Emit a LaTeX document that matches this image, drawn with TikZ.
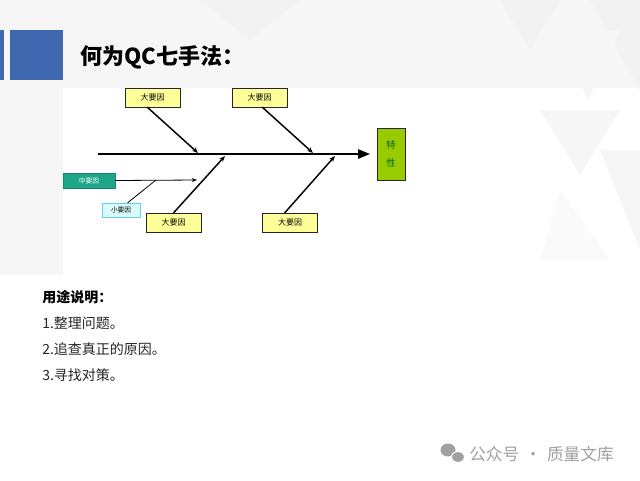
\documentclass[tikz,border=0pt]{standalone}
\usepackage{fontspec}
\setmainfont{Noto Sans CJK SC}
\usetikzlibrary{arrows.meta,positioning}

\definecolor{slideblue}{HTML}{4068B0}
\definecolor{causeyellow}{HTML}{FFFF99}
\definecolor{effectgreen}{HTML}{99CC00}
\definecolor{midteal}{HTML}{1FA68A}
\definecolor{smallcyan}{HTML}{D9FBFB}
\definecolor{watergray}{HTML}{A0A0A0}
\definecolor{facet}{HTML}{F6F6F6}

\tikzset{
  bigcause/.style={draw=black!85, fill=causeyellow, minimum width=41pt, minimum height=14pt, inner sep=0pt, font=\fontsize{6}{6}\selectfont},
  bone/.style={line width=1.1pt, -{Stealth[length=4.5pt,width=3.5pt]}},
  listtext/.style={anchor=west, inner sep=0pt, font=\fontsize{10.5}{12}\selectfont, text=black!85}
}

\begin{document}
\begin{tikzpicture}[x=0.75pt, y=-0.75pt]
    % Background
    \fill[white] (0,0) rectangle (640,480);
    \useasboundingbox (0,0) rectangle (640,480);
    \fill[facet] (0,0) rectangle (640,88);
    \fill[facet] (0,88) rectangle (63,275);
    \fill[black!5] (200,0) -- (250,40) -- (300,0) -- cycle;
    \fill[black!5] (500,0) -- (560,0) -- (530,50) -- cycle;
    \fill[black!5] (590,0) -- (640,0) -- (640,90) -- cycle;
    \fill[facet] (555,30) -- (620,30) -- (588,100) -- cycle;
    \fill[facet] (540,110) -- (620,110) -- (580,175) -- cycle;
    \fill[facet] (600,150) -- (640,150) -- (640,250) -- cycle;
    \fill[facet!60!white] (560,190) -- (610,260) -- (540,260) -- cycle;
    \fill[white] (63,88) rectangle (420,275);

    % Title bar
    \fill[slideblue] (0,30) rectangle (4,80);
    \fill[slideblue] (10,30) rectangle (63,80);
    \node[anchor=west, inner sep=0pt, font=\fontsize{16.5}{18}\selectfont\bfseries] (title) at (80,57) {何为QC七手法：};

    % Define the points on the spine
    \coordinate (tail) at (98,154);
    \coordinate (head) at (370,154);
    \coordinate (J1) at (198,153);
    \coordinate (J2) at (313,153);
    \coordinate (J3) at (225,156);
    \coordinate (J4) at (335,156);
    \coordinate (M) at (197,180);
    \coordinate (S) at (156,180);

    % Draw the boxes
    \node[bigcause] (top1) at (152.5,97.5) {大要因};
    \node[bigcause] (top2) at (259.5,97.5) {大要因};
    \node[bigcause] (bot1) at (173.5,222.5) {大要因};
    \node[bigcause] (bot2) at (290,222.5) {大要因};
    \node[draw=black!85, fill=effectgreen, minimum width=21pt, minimum height=39pt, inner sep=0pt, align=center,
      font=\fontsize{7}{13}\selectfont, text=green!40!black] (effect) at (391,154) {特\\性};
    \node[draw=midteal!80!black, fill=midteal, minimum width=39pt, minimum height=11pt, inner sep=0pt,
      font=\fontsize{5}{5}\selectfont, text=white] (mid) at (89,180.5) {中要因};
    \node[draw=cyan!60, fill=smallcyan, minimum width=28.5pt, minimum height=10.5pt, inner sep=0pt,
      font=\fontsize{5}{5}\selectfont] (small) at (121,210) {小要因};

    % Draw the spine and the bones
    \draw[line width=1.3pt, -{Triangle[length=9pt,width=7pt]}] (tail) -- (head);
    \draw[bone] ([xshift=-4pt]top1.south) -- (J1);
    \draw[bone] ([xshift=2pt]top2.south) -- (J2);
    \draw[bone] (bot1.north) -- (J3);
    \draw[bone] ([xshift=-4pt]bot2.north) -- (J4);
    \draw[line width=0.6pt, -{Stealth[length=4pt,width=3pt]}] (mid.east) -- (M);
    \draw[line width=0.6pt] ([xshift=5pt]small.north) -- (S);

    % Usage notes
    \node[listtext, font=\fontsize{10.5}{12}\selectfont\bfseries, text=black] (usage) at (42,297) {用途说明：};
    \node[listtext] (item1) at (42,323) {1.整理问题。};
    \node[listtext] (item2) at (42,349) {2.追查真正的原因。};
    \node[listtext] (item3) at (42,375) {3.寻找对策。};

    % Watermark
    \fill[watergray] (448,450) ellipse (7.5 and 6.5);
    \fill[watergray] (458,457) ellipse (6.5 and 5.5);
    \draw[white, line width=0.8pt] (458,457) ellipse (6.5 and 5.5);
    \node[anchor=west, inner sep=0pt, font=\fontsize{12.5}{13}\selectfont, text=watergray] (mark) at (469,454) {公众号\,\,·\,\,质量文库};
\end{tikzpicture}
\end{document}
